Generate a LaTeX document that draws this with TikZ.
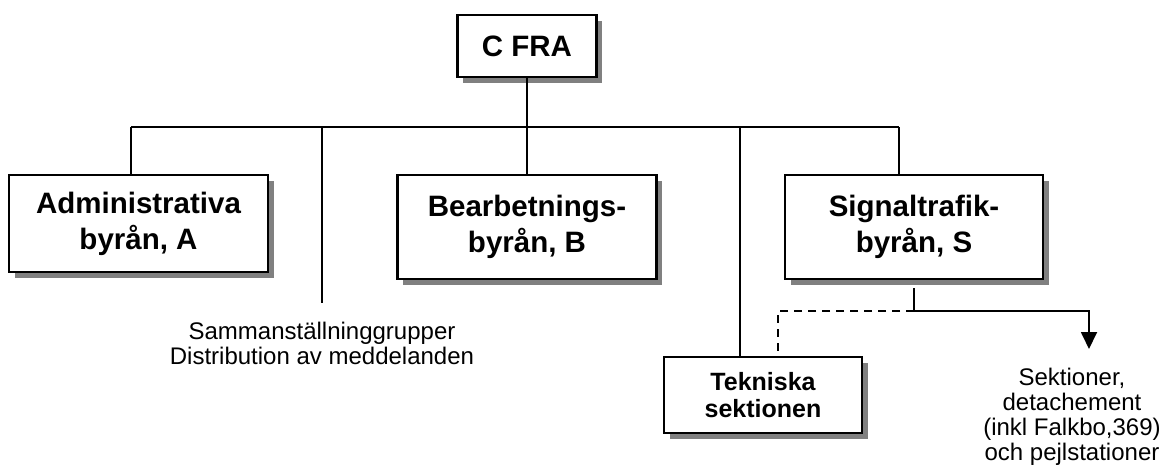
\documentclass[tikz,border=0pt]{standalone}
\usepackage{fontspec}
\setmainfont{Liberation Sans}
\usetikzlibrary{shadows,arrows.meta}
\definecolor{shadowgray}{RGB}{128,128,128}
\tikzset{
  orgbox/.style={draw=black, line width=2.4pt, fill=white, align=center,
    inner sep=0pt, font=\bfseries\fontsize{29.5}{36}\selectfont,
    drop shadow={shadow xshift=5.5pt, shadow yshift=-5.5pt, fill=shadowgray, opacity=1}},
  smallbox/.style={orgbox, font=\bfseries\fontsize{25}{27}\selectfont},
  plain/.style={align=center, inner sep=0pt, font=\fontsize{24}{25}\selectfont},
  conn/.style={draw=black, line width=1.8pt},
  dashconn/.style={conn, dash pattern=on 8pt off 6pt},
}
\begin{document}
\begin{tikzpicture}[x=1pt, y=-1pt]
\useasboundingbox (0,0) rectangle (1173,466);
% boxes
\node[orgbox, minimum width=139pt, minimum height=62pt] (cfra) at (527,46) {C FRA};
\node[orgbox, minimum width=259pt, minimum height=97pt] (A) at (138.5,223.5) {Administrativa\\byrån, A};
\node[orgbox, minimum width=259pt, minimum height=104pt] (B) at (527,227) {Bearbetnings-\\byrån, B};
\node[orgbox, minimum width=258pt, minimum height=104pt] (S) at (914,227) {Signaltrafik-\\byrån, S};
\node[smallbox, minimum width=198pt, minimum height=76pt] (T) at (763,395) {Tekniska\\sektionen};
% plain texts
\node[plain] (sam) at (322,343) {Sammanställninggrupper\\Distribution av meddelanden};
\node[plain] (sek) at (1072,417) {Sektioner,\\detachement\\(inkl Falkbo,369)\\och pejlstationer};
% coordinates
\coordinate (jA) at (131,127);
\coordinate (jSam) at (322,127);
\coordinate (jT) at (740,127);
\coordinate (jS) at (899,127);
\coordinate (samend) at (322,303);
\coordinate (junc) at (914,311);
\coordinate (tdash) at (778,357);
\coordinate (arrowend) at (1089,349);
% connectors
\draw[conn] (cfra.south) -- (B.north);
\draw[conn] (jA) -- (jS);
\draw[conn] (jA) -- (A.north -| jA);
\draw[conn] (jSam) -- (samend);
\draw[conn] (jT) -- (T.north -| jT);
\draw[conn] (jS) -- (S.north -| jS);
\draw[conn] ([yshift=-8pt]S.south) -- (junc);
\draw[dashconn] (junc) -| (tdash);
\draw[conn, -{Triangle[width=16pt,length=17pt]}] (junc) -| (arrowend);
\end{tikzpicture}
\end{document}
